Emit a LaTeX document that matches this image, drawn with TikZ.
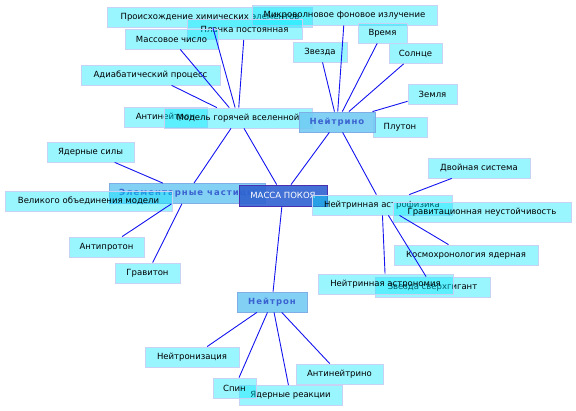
\documentclass[tikz,border=0pt]{standalone}
\usepackage{fontspec}
\setmainfont{DejaVu Sans}
\usepackage{tikz}
\definecolor{mmcyan}{HTML}{00E8FF}
\definecolor{mmedge}{HTML}{C8D2F4}
\definecolor{mmhub}{HTML}{6CC8F2}
\definecolor{mmhubline}{HTML}{7FAEE6}
\definecolor{mmhubtext}{HTML}{3A62D0}
\definecolor{mmroot}{HTML}{2F62D0}
\definecolor{mmrootline}{HTML}{4A2FB0}
\definecolor{mmlink}{HTML}{1414F0}

\begin{document}
\begin{tikzpicture}[x=1pt, y=-1pt,
   leaf/.style={draw=mmedge, fill=mmcyan, fill opacity=0.4, text opacity=1,
                minimum height=20pt, inner sep=1pt, line width=0.8pt,
                font=\fontsize{8.5}{10}\selectfont},
   hub/.style={draw=mmhubline, fill=mmhub, fill opacity=0.85, text opacity=1,
               text=mmhubtext, minimum height=20pt, inner sep=1pt, line width=0.8pt,
               font=\fontsize{8.5}{10}\selectfont\bfseries\addfontfeature{LetterSpace=12}},
   root/.style={draw=mmrootline, fill=mmroot, fill opacity=0.9, text opacity=1,
                text=white, minimum height=21pt, inner sep=1pt, line width=0.8pt,
                font=\fontsize{8.5}{10}\selectfont},
   link/.style={mmlink, line width=0.9pt}]
  \useasboundingbox (0,0) rectangle (576,411);

  \node[leaf, minimum width=205pt] (origin) at (210,17) {Происхождение химических элементов};
  \node[leaf, minimum width=185pt] (cmb) at (344.5,15) {Микроволновое фоновое излучение};
  \node[leaf, minimum width=115pt] (planck) at (244.5,29.5) {Планка постоянная};
  \node[leaf, minimum width=93pt] (massnum) at (171.5,39) {Массовое число};
  \node[leaf, minimum width=139pt] (adiabat) at (150.5,75) {Адиабатический процесс};
  \node[leaf, minimum width=83pt] (antineutron) at (165.5,117) {Антинейтрон};
  \node[leaf, minimum width=148pt] (hotmodel) at (238,118) {Модель горячей вселенной};
  \node[leaf, minimum width=54pt] (star) at (320,52) {Звезда};
  \node[leaf, minimum width=49pt] (time) at (382.5,33) {Время};
  \node[leaf, minimum width=53pt] (sun) at (415.5,53.5) {Солнце};
  \node[leaf, minimum width=49pt] (earth) at (432.5,94) {Земля};
  \node[leaf, minimum width=54pt] (pluto) at (400,127) {Плутон};
  \node[hub, minimum width=76pt] (neutrino) at (337,122) {Нейтрино};

  \node[leaf, minimum width=87pt] (nuclforce) at (90.5,152) {Ядерные силы};
  \node[hub, minimum width=156pt] (particles) at (187,193.5) {Элементарные частицы};
  \node[leaf, minimum width=167pt] (gut) at (88.5,201) {Великого объединения модели};
  \node[leaf, minimum width=75pt] (antiproton) at (106.5,247) {Антипротон};
  \node[leaf, minimum width=65pt] (graviton) at (147.5,273) {Гравитон};
  \node[root, minimum width=88pt] (restmass) at (283,195.5) {МАССА ПОКОЯ};

  \node[leaf, minimum width=102pt] (binary) at (479,168) {Двойная система};
  \node[leaf, minimum width=140pt] (nuastro) at (382,205) {Нейтринная астрофизика};
  \node[leaf, minimum width=178pt] (instab) at (482,212) {Гравитационная неустойчивость};
  \node[leaf, minimum width=144pt] (cosmochron) at (466,255) {Космохронология ядерная};
  \node[leaf, minimum width=115pt] (supergiant) at (432.5,287) {Звезда сверхгигант};
  \node[leaf, minimum width=135pt] (nuastronomy) at (385.5,284) {Нейтринная астрономия};

  \node[hub, minimum width=70pt] (neutron) at (272,302) {Нейтрон};
  \node[leaf, minimum width=94pt] (neutronize) at (192,357) {Нейтронизация};
  \node[leaf, minimum width=87pt] (antineutrino) at (339.5,374) {Антинейтрино};
  \node[leaf, minimum width=103pt] (reactions) at (290.5,395.5) {Ядерные реакции};
  \node[leaf, minimum width=43pt] (spin) at (234.5,388) {Спин};

  \draw[link] (restmass) -- (hotmodel);
  \draw[link] (restmass) -- (neutrino);
  \draw[link] (restmass) -- (neutron);
  \draw[link] (hotmodel) -- (particles);
  \draw[link] (hotmodel) -- (origin);
  \draw[link] (hotmodel) -- (planck);
  \draw[link] (hotmodel) -- (massnum);
  \draw[link] (hotmodel) -- (adiabat);
  \draw[link] (particles) -- (nuclforce);
  \draw[link] (particles) -- (antiproton);
  \draw[link] (particles) -- (graviton);
  \draw[link] (neutrino) -- (star);
  \draw[link] (neutrino) -- (cmb);
  \draw[link] (neutrino) -- (time);
  \draw[link] (neutrino) -- (sun);
  \draw[link] (neutrino) -- (earth);
  \draw[link] (neutrino) -- (nuastro);
  \draw[link] (nuastro) -- (binary);
  \draw[link] (nuastro) -- (cosmochron);
  \draw[link] (nuastro) -- (nuastronomy);
  \draw[link] (nuastro) -- (supergiant);
  \draw[link] (neutron) -- (neutronize);
  \draw[link] (neutron) -- (spin);
  \draw[link] (neutron) -- (reactions);
  \draw[link] (neutron) -- (antineutrino);
\end{tikzpicture}
\end{document}
